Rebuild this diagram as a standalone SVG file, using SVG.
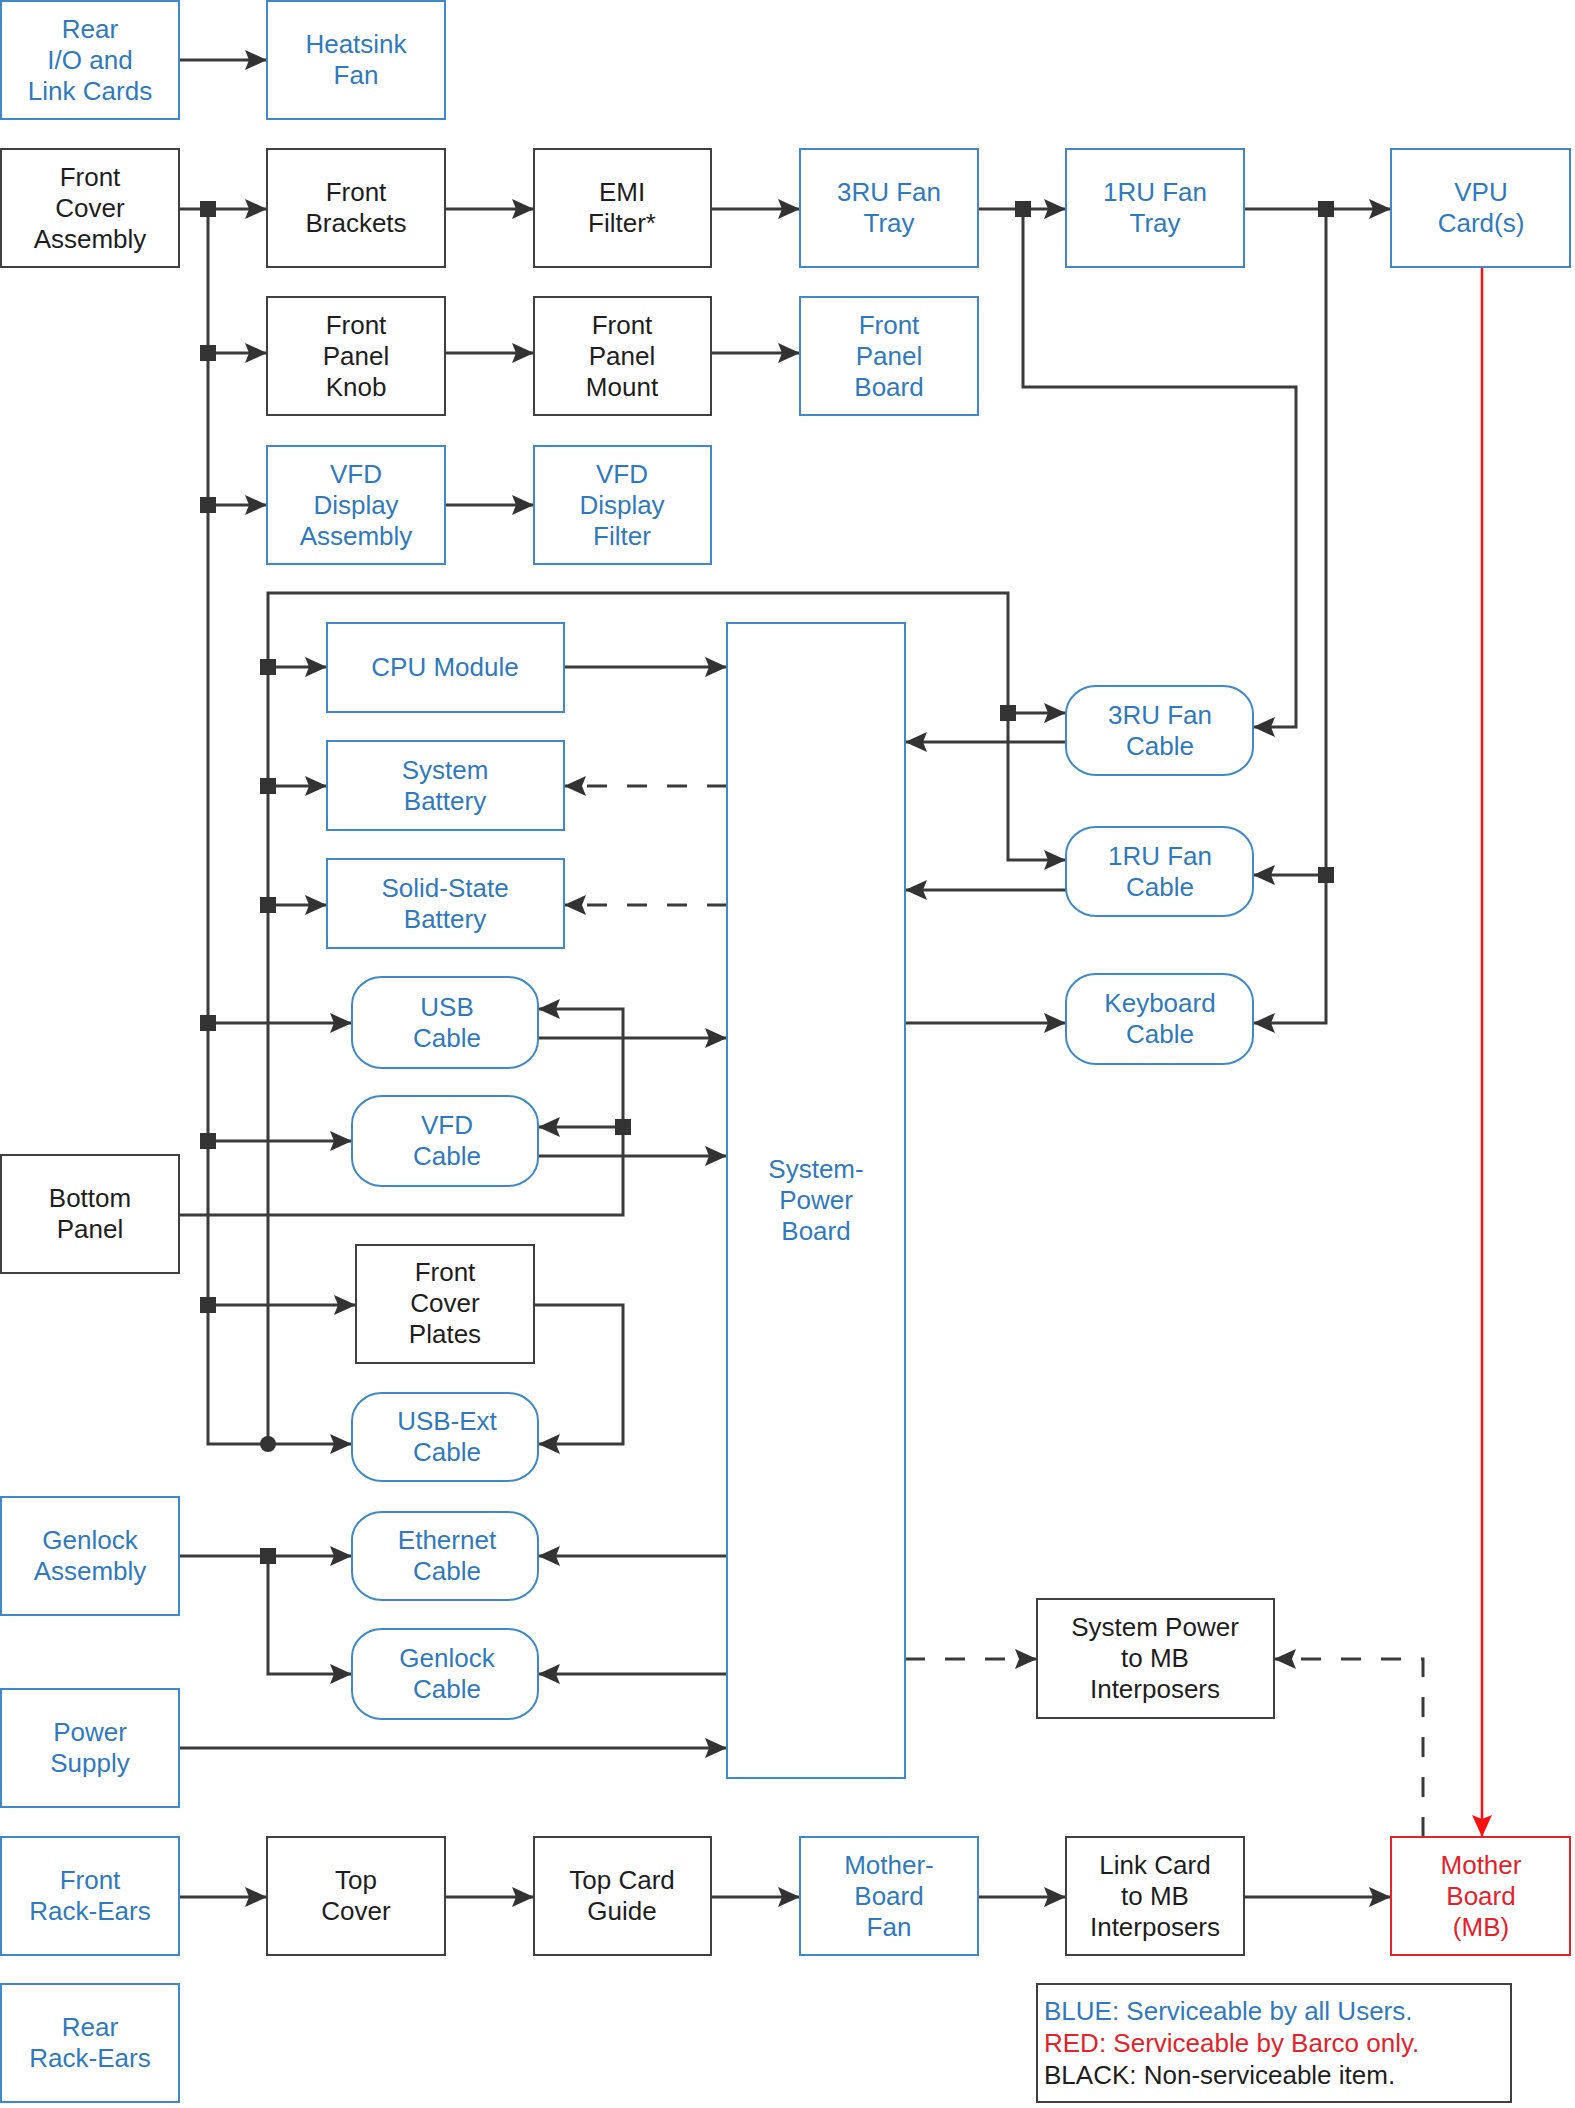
<svg xmlns="http://www.w3.org/2000/svg" width="1575" height="2108" viewBox="0 0 1575 2108">
<style>
.bx{fill:#fff;stroke-width:2}
.b{stroke:#3f8ac6}
.k{stroke:#404040}
.r{stroke:#e0242c}
text{font-family:"Liberation Sans",Arial,sans-serif;font-size:26px;text-anchor:middle}
.tb{fill:#2f7abd}
.tk{fill:#1e1e1e}
.tr{fill:#e3222b}
.ln{fill:none;stroke:#3a3a3a;stroke-width:3}
.ar{marker-end:url(#ah)}
.da{stroke-dasharray:20 20}
.jn{fill:#333}
</style>
<defs>
<marker id="ah" viewBox="0 0 22 22" refX="22" refY="11" markerWidth="22" markerHeight="22" markerUnits="userSpaceOnUse" orient="auto">
<path d="M0,1 L22,11 L0,21 L4,11 Z" fill="#333"/>
</marker>
<marker id="ahr" viewBox="0 0 22 22" refX="22" refY="11" markerWidth="22" markerHeight="22" markerUnits="userSpaceOnUse" orient="auto">
<path d="M0,1 L22,11 L0,21 L4,11 Z" fill="#ff1010"/>
</marker>
</defs>
<rect width="1575" height="2108" fill="#fff"/>

<g id="connectors">
<path class="ln ar" d="M179,60 H267"/>
<path class="ln ar" d="M179,209 H267"/>
<path class="ln ar" d="M208,209 V1444 H352"/>
<path class="ln ar" d="M208,353 H267"/>
<path class="ln ar" d="M208,505 H267"/>
<path class="ln ar" d="M445,209 H534"/>
<path class="ln ar" d="M711,209 H800"/>
<path class="ln ar" d="M978,209 H1066"/>
<path class="ln ar" d="M1244,209 H1391"/>
<path class="ln ar" d="M445,353 H534"/>
<path class="ln ar" d="M711,353 H800"/>
<path class="ln ar" d="M445,505 H534"/>
<path class="ln ar" d="M1023,209 V387 H1296 V727 H1253"/>
<path class="ln ar" d="M1326,209 V1023 H1253"/>
<path class="ln ar" d="M1326,875 H1253"/>
<path class="ln ar" d="M268,1444 V593 H1008 V860 H1066"/>
<path class="ln ar" d="M1008,713 H1066"/>
<path class="ln ar" d="M268,667 H327"/>
<path class="ln ar" d="M268,786 H327"/>
<path class="ln ar" d="M268,905 H327"/>
<path class="ln ar" d="M564,667 H727"/>
<path class="ln ar da" d="M727,786 H564"/>
<path class="ln ar da" d="M727,905 H564"/>
<path class="ln ar" d="M208,1023 H352"/>
<path class="ln ar" d="M538,1038 H727"/>
<path class="ln ar" d="M208,1141 H352"/>
<path class="ln ar" d="M538,1156 H727"/>
<path class="ln ar" d="M179,1215 H623 V1009 H538"/>
<path class="ln ar" d="M623,1127 H538"/>
<path class="ln ar" d="M1066,742 H905"/>
<path class="ln ar" d="M1066,890 H905"/>
<path class="ln ar" d="M905,1023 H1066"/>
<path class="ln ar" d="M208,1305 H356"/>
<path class="ln ar" d="M534,1305 H623 V1444 H538"/>
<path class="ln ar" d="M179,1556 H352"/>
<path class="ln ar" d="M268,1556 V1674 H352"/>
<path class="ln ar" d="M727,1556 H538"/>
<path class="ln ar" d="M727,1674 H538"/>
<path class="ln ar" d="M179,1748 H727"/>
<path class="ln ar da" d="M905,1659 H1037"/>
<path class="ln ar da" d="M1423,1837 V1659 H1274"/>
<path class="ln ar" d="M179,1897 H267"/>
<path class="ln ar" d="M445,1897 H534"/>
<path class="ln ar" d="M711,1897 H800"/>
<path class="ln ar" d="M978,1897 H1066"/>
<path class="ln ar" d="M1244,1897 H1391"/>
<path d="M1482,267 V1837" fill="none" stroke="#ff1010" stroke-width="2.5" marker-end="url(#ahr)"/>
<g class="jn">
<rect x="200" y="201" width="16" height="16"/>
<rect x="200" y="345" width="16" height="16"/>
<rect x="200" y="497" width="16" height="16"/>
<rect x="200" y="1015" width="16" height="16"/>
<rect x="200" y="1133" width="16" height="16"/>
<rect x="200" y="1297" width="16" height="16"/>
<rect x="260" y="659" width="16" height="16"/>
<rect x="260" y="778" width="16" height="16"/>
<rect x="260" y="897" width="16" height="16"/>
<rect x="260" y="1548" width="16" height="16"/>
<rect x="1015" y="201" width="16" height="16"/>
<rect x="1318" y="201" width="16" height="16"/>
<rect x="1000" y="705" width="16" height="16"/>
<rect x="1318" y="867" width="16" height="16"/>
<rect x="615" y="1119" width="16" height="16"/>
<circle cx="268" cy="1444" r="8"/>
</g>
</g>

<g id="rear_io"><rect class="bx b" x="1" y="1" width="178" height="118"/><text class="tb" x="90"><tspan y="38">Rear</tspan><tspan x="90" y="69">I/O and</tspan><tspan x="90" y="100">Link Cards</tspan></text></g>
<g id="heatsink_fan"><rect class="bx b" x="267" y="1" width="178" height="118"/><text class="tb" x="356"><tspan y="53">Heatsink</tspan><tspan x="356" y="84">Fan</tspan></text></g>
<g id="front_cover_assembly"><rect class="bx k" x="1" y="149" width="178" height="118"/><text class="tk" x="90"><tspan y="186">Front</tspan><tspan x="90" y="217">Cover</tspan><tspan x="90" y="248">Assembly</tspan></text></g>
<g id="front_brackets"><rect class="bx k" x="267" y="149" width="178" height="118"/><text class="tk" x="356"><tspan y="201">Front</tspan><tspan x="356" y="232">Brackets</tspan></text></g>
<g id="emi_filter"><rect class="bx k" x="534" y="149" width="177" height="118"/><text class="tk" x="622"><tspan y="201">EMI</tspan><tspan x="622" y="232">Filter*</tspan></text></g>
<g id="fan_tray_3ru"><rect class="bx b" x="800" y="149" width="178" height="118"/><text class="tb" x="889"><tspan y="201">3RU Fan</tspan><tspan x="889" y="232">Tray</tspan></text></g>
<g id="fan_tray_1ru"><rect class="bx b" x="1066" y="149" width="178" height="118"/><text class="tb" x="1155"><tspan y="201">1RU Fan</tspan><tspan x="1155" y="232">Tray</tspan></text></g>
<g id="vpu_cards"><rect class="bx b" x="1391" y="149" width="179" height="118"/><text class="tb" x="1481"><tspan y="201">VPU</tspan><tspan x="1481" y="232">Card(s)</tspan></text></g>

<g id="front_panel_knob"><rect class="bx k" x="267" y="297" width="178" height="118"/><text class="tk" x="356"><tspan y="334">Front</tspan><tspan x="356" y="365">Panel</tspan><tspan x="356" y="396">Knob</tspan></text></g>
<g id="front_panel_mount"><rect class="bx k" x="534" y="297" width="177" height="118"/><text class="tk" x="622"><tspan y="334">Front</tspan><tspan x="622" y="365">Panel</tspan><tspan x="622" y="396">Mount</tspan></text></g>
<g id="front_panel_board"><rect class="bx b" x="800" y="297" width="178" height="118"/><text class="tb" x="889"><tspan y="334">Front</tspan><tspan x="889" y="365">Panel</tspan><tspan x="889" y="396">Board</tspan></text></g>

<g id="vfd_display_assembly"><rect class="bx b" x="267" y="446" width="178" height="118"/><text class="tb" x="356"><tspan y="483">VFD</tspan><tspan x="356" y="514">Display</tspan><tspan x="356" y="545">Assembly</tspan></text></g>
<g id="vfd_display_filter"><rect class="bx b" x="534" y="446" width="177" height="118"/><text class="tb" x="622"><tspan y="483">VFD</tspan><tspan x="622" y="514">Display</tspan><tspan x="622" y="545">Filter</tspan></text></g>

<g id="cpu_module"><rect class="bx b" x="327" y="623" width="237" height="89"/><text class="tb" x="445" y="676">CPU Module</text></g>
<g id="system_battery"><rect class="bx b" x="327" y="741" width="237" height="89"/><text class="tb" x="445"><tspan y="779">System</tspan><tspan x="445" y="810">Battery</tspan></text></g>
<g id="solid_state_battery"><rect class="bx b" x="327" y="859" width="237" height="89"/><text class="tb" x="445"><tspan y="897">Solid-State</tspan><tspan x="445" y="928">Battery</tspan></text></g>

<g id="usb_cable"><rect class="bx b" x="352" y="977" width="186" height="91" rx="30" ry="28"/><text class="tb" x="447"><tspan y="1016">USB</tspan><tspan x="447" y="1047">Cable</tspan></text></g>
<g id="vfd_cable"><rect class="bx b" x="352" y="1096" width="186" height="90" rx="30" ry="28"/><text class="tb" x="447"><tspan y="1134">VFD</tspan><tspan x="447" y="1165">Cable</tspan></text></g>
<g id="bottom_panel"><rect class="bx k" x="1" y="1155" width="178" height="118"/><text class="tk" x="90"><tspan y="1207">Bottom</tspan><tspan x="90" y="1238">Panel</tspan></text></g>
<g id="front_cover_plates"><rect class="bx k" x="356" y="1245" width="178" height="118"/><text class="tk" x="445"><tspan y="1281">Front</tspan><tspan x="445" y="1312">Cover</tspan><tspan x="445" y="1343">Plates</tspan></text></g>
<g id="usb_ext_cable"><rect class="bx b" x="352" y="1393" width="186" height="88" rx="30" ry="28"/><text class="tb" x="447"><tspan y="1430">USB-Ext</tspan><tspan x="447" y="1461">Cable</tspan></text></g>
<g id="genlock_assembly"><rect class="bx b" x="1" y="1497" width="178" height="118"/><text class="tb" x="90"><tspan y="1549">Genlock</tspan><tspan x="90" y="1580">Assembly</tspan></text></g>
<g id="ethernet_cable"><rect class="bx b" x="352" y="1512" width="186" height="88" rx="30" ry="28"/><text class="tb" x="447"><tspan y="1549">Ethernet</tspan><tspan x="447" y="1580">Cable</tspan></text></g>
<g id="genlock_cable"><rect class="bx b" x="352" y="1629" width="186" height="90" rx="30" ry="28"/><text class="tb" x="447"><tspan y="1667">Genlock</tspan><tspan x="447" y="1698">Cable</tspan></text></g>
<g id="power_supply"><rect class="bx b" x="1" y="1689" width="178" height="118"/><text class="tb" x="90"><tspan y="1741">Power</tspan><tspan x="90" y="1772">Supply</tspan></text></g>

<g id="system_power_board"><rect class="bx b" x="727" y="623" width="178" height="1155"/><text class="tb" x="816"><tspan y="1178">System-</tspan><tspan x="816" y="1209">Power</tspan><tspan x="816" y="1240">Board</tspan></text></g>

<g id="fan_cable_3ru"><rect class="bx b" x="1066" y="686" width="187" height="89" rx="30" ry="28"/><text class="tb" x="1160"><tspan y="724">3RU Fan</tspan><tspan x="1160" y="755">Cable</tspan></text></g>
<g id="fan_cable_1ru"><rect class="bx b" x="1066" y="827" width="187" height="89" rx="30" ry="28"/><text class="tb" x="1160"><tspan y="865">1RU Fan</tspan><tspan x="1160" y="896">Cable</tspan></text></g>
<g id="keyboard_cable"><rect class="bx b" x="1066" y="974" width="187" height="90" rx="30" ry="28"/><text class="tb" x="1160"><tspan y="1012">Keyboard</tspan><tspan x="1160" y="1043">Cable</tspan></text></g>

<g id="system_power_mb_interposers"><rect class="bx k" x="1037" y="1599" width="237" height="119"/><text class="tk" x="1155"><tspan y="1636">System Power</tspan><tspan x="1155" y="1667">to MB</tspan><tspan x="1155" y="1698">Interposers</tspan></text></g>

<g id="front_rack_ears"><rect class="bx b" x="1" y="1837" width="178" height="118"/><text class="tb" x="90"><tspan y="1889">Front</tspan><tspan x="90" y="1920">Rack-Ears</tspan></text></g>
<g id="top_cover"><rect class="bx k" x="267" y="1837" width="178" height="118"/><text class="tk" x="356"><tspan y="1889">Top</tspan><tspan x="356" y="1920">Cover</tspan></text></g>
<g id="top_card_guide"><rect class="bx k" x="534" y="1837" width="177" height="118"/><text class="tk" x="622"><tspan y="1889">Top Card</tspan><tspan x="622" y="1920">Guide</tspan></text></g>
<g id="motherboard_fan"><rect class="bx b" x="800" y="1837" width="178" height="118"/><text class="tb" x="889"><tspan y="1874">Mother-</tspan><tspan x="889" y="1905">Board</tspan><tspan x="889" y="1936">Fan</tspan></text></g>
<g id="link_card_mb_interposers"><rect class="bx k" x="1066" y="1837" width="178" height="118"/><text class="tk" x="1155"><tspan y="1874">Link Card</tspan><tspan x="1155" y="1905">to MB</tspan><tspan x="1155" y="1936">Interposers</tspan></text></g>
<g id="mother_board"><rect class="bx r" x="1391" y="1837" width="179" height="118"/><text class="tr" x="1481"><tspan y="1874">Mother</tspan><tspan x="1481" y="1905">Board</tspan><tspan x="1481" y="1936">(MB)</tspan></text></g>
<g id="rear_rack_ears"><rect class="bx b" x="1" y="1984" width="178" height="118"/><text class="tb" x="90"><tspan y="2036">Rear</tspan><tspan x="90" y="2067">Rack-Ears</tspan></text></g>

<g id="legend"><rect class="bx k" x="1037" y="1984" width="474" height="118"/>
<text class="tb" x="1044" y="2020" style="text-anchor:start">BLUE: Serviceable by all Users.</text>
<text class="tr" x="1044" y="2052" style="text-anchor:start">RED: Serviceable by Barco only.</text>
<text class="tk" x="1044" y="2084" style="text-anchor:start">BLACK: Non-serviceable item.</text>
</g>
</svg>
